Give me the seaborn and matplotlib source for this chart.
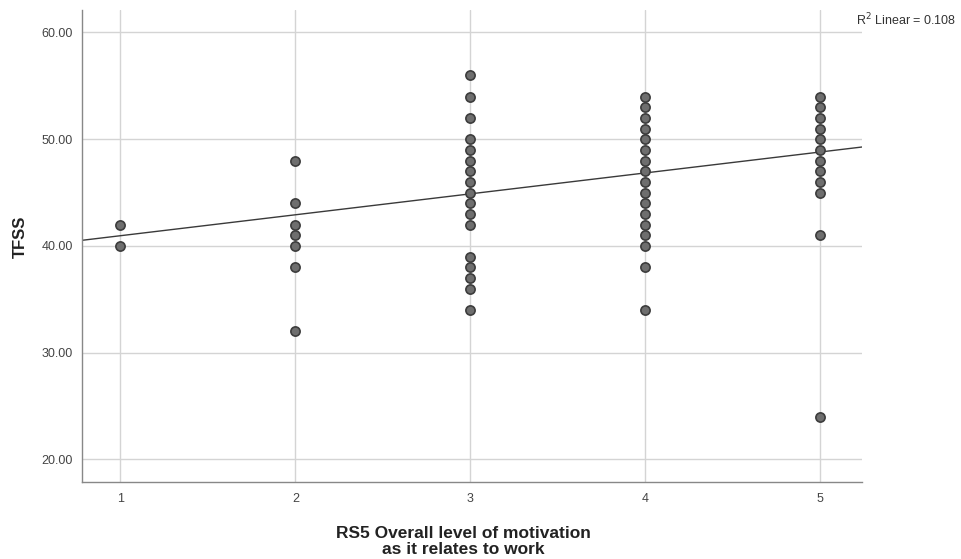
import matplotlib
matplotlib.use("Agg")
import matplotlib.pyplot as plt
import seaborn as sns
import numpy as np
import pandas as pd

# Data
x1_vals = [42, 40]
x2_vals = [48, 44, 42, 41, 40, 38, 32]
x3_vals = [56, 54, 52, 50, 49, 48, 47, 46, 45, 44, 43, 42, 39, 38, 37, 36, 34]
x4_vals = [54, 53, 52, 51, 50, 49, 48, 47, 46, 45, 44, 43, 42, 41, 40, 38, 34]
x5_vals = [54, 53, 52, 51, 50, 49, 48, 47, 46, 45, 41, 24]
x_ticks = [1, 2, 3, 4, 5]
y_ticks = [20, 30, 40, 50, 60]
# Linear fit line (points may overlap there)
fit_intercept = 39.0
fit_slope = 1.96
r2_label = "R$^2$ Linear = 0.108"

groups = [x1_vals, x2_vals, x3_vals, x4_vals, x5_vals]
xs, ys = [], []
for xv, vals in zip(x_ticks, groups):
    xs += [xv] * len(vals)
    ys += vals
df = pd.DataFrame({"RS5": xs, "TFSS": ys})

sns.set_theme(style="white")
plt.rcParams['font.family'] = ['Liberation Sans', 'DejaVu Sans']

fig = plt.figure(figsize=(9.61, 5.59), dpi=100)
ax = fig.add_axes([0.0853, 0.138, 0.897 - 0.0853, 0.982 - 0.138])

ax.set_xlim(0.78, 5.24)
ax.set_ylim(17.9, 62.1)
ax.set_xticks(x_ticks)
ax.set_yticks(y_ticks)
ax.grid(True, color="#d4d4d4", linewidth=1.0)
ax.set_axisbelow(True)

sns.scatterplot(data=df, x="RS5", y="TFSS", ax=ax, s=44, color="#6e6e6e",
                edgecolor="#3c3c3c", linewidth=1.2, alpha=1, zorder=3)
ax.axline((0, fit_intercept), slope=fit_slope, color="#3a3a3a",
          linewidth=1.0, zorder=2)

ax.set_xticklabels([str(v) for v in x_ticks])
ax.set_yticklabels([f"{v:.2f}" for v in y_ticks])
ax.tick_params(axis="both", labelsize=9, colors="#777777", length=3, width=0.8)
ax.tick_params(axis="x", pad=5)
for lab in ax.get_xticklabels() + ax.get_yticklabels():
    lab.set_color("#444444")

for s in ["top", "right"]:
    ax.spines[s].set_visible(False)
for s in ["left", "bottom"]:
    ax.spines[s].set_color("#888888")
    ax.spines[s].set_linewidth(1.0)

ax.set_xlabel("RS5 Overall level of motivation\nas it relates to work",
              fontsize=12.5, fontweight="bold", color="#222222",
              linespacing=1.05)
ax.xaxis.set_label_coords(0.4885, -0.094)
ax.xaxis.label.set_va("top")
ax.set_ylabel("TFSS", fontsize=12, fontweight="bold", color="#222222")
ax.yaxis.set_label_coords(-0.069, 0.519)

fig.text(0.891, 0.965, r2_label, fontsize=9, color="#333333", ha="left", va="center")

fig.savefig("out.png", dpi=100)
